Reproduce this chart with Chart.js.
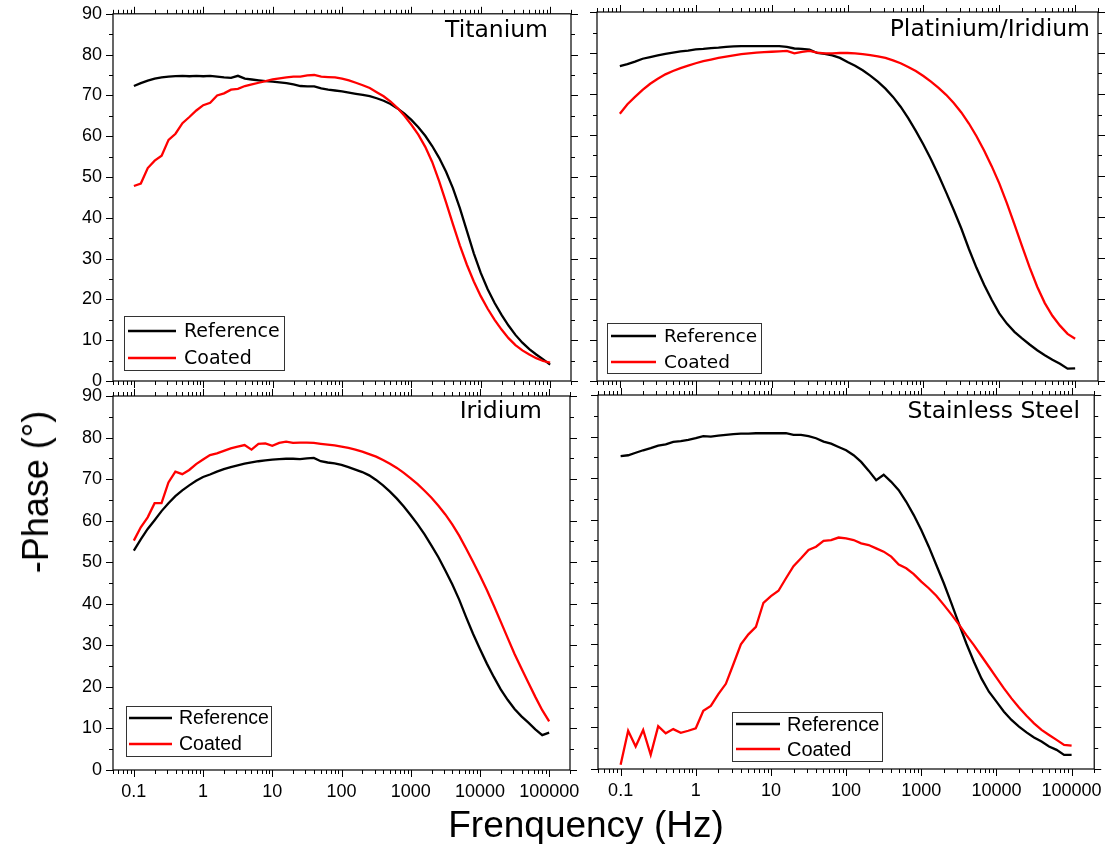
<!DOCTYPE html>
<html>
<head>
<meta charset="utf-8">
<script src="https://cdn.jsdelivr.net/npm/chart.js@4.4.0/dist/chart.umd.min.js"></script>
<style>
html,body{margin:0;padding:0;background:#fff;width:1105px;height:844px;overflow:hidden;position:relative;}
canvas{position:absolute;}
.axt{position:absolute;font-family:"Liberation Sans",Arial,sans-serif;font-size:36px;line-height:1;color:#000;white-space:nowrap;transform:translate(-50%,-50%);}
</style>
</head>
<body>
<canvas id="cTL" width="590" height="395" style="left:0px;top:0px"></canvas>
<canvas id="cTR" width="520" height="395" style="left:585px;top:0px"></canvas>
<canvas id="cBL" width="590" height="464" style="left:0px;top:380px"></canvas>
<canvas id="cBR" width="520" height="464" style="left:585px;top:380px"></canvas>
<div class="axt" style="left:586px;top:824px;font-size:37px;">Frenquency (Hz)</div>
<div class="axt" style="left:36px;top:492px;transform:translate(-50%,-50%) rotate(-90deg);">-Phase (°)</div>
<script>
// ---------- DATA ----------
const frequencies = [
  0.1, 0.1259, 0.1585, 0.1995, 0.2512, 0.3162, 0.3981, 0.5012, 0.631, 0.7943,
  1, 1.259, 1.585, 1.995, 2.512, 3.162, 3.981, 5.012, 6.31, 7.943,
  10, 12.59, 15.85, 19.95, 25.12, 31.62, 39.81, 50.12, 63.1, 79.43,
  100, 125.9, 158.5, 199.5, 251.2, 316.2, 398.1, 501.2, 631, 794.3,
  1000, 1259, 1585, 1995, 2512, 3162, 3981, 5012, 6310, 7943,
  10000, 12589, 15849, 19953, 25119, 31623, 39811, 50119, 63096, 79433,
  100000
];

const titaniumReference = [
  72.3, 73.0, 73.6, 74.1, 74.4, 74.6, 74.7, 74.8, 74.7, 74.8,
  74.7, 74.8, 74.6, 74.4, 74.3, 74.8, 74.1, 73.9, 73.7, 73.5,
  73.4, 73.2, 73.0, 72.7, 72.3, 72.2, 72.2, 71.7, 71.4, 71.2,
  71.0, 70.7, 70.4, 70.1, 69.8, 69.3, 68.7, 67.9, 66.8, 65.5,
  64.0, 62.2, 60.1, 57.6, 54.7, 51.3, 47.2, 42.3, 36.8, 31.3,
  26.5, 22.5, 19.1, 16.2, 13.6, 11.3, 9.4, 7.8, 6.5, 5.3,
  4.0
];
const titaniumCoated = [
  47.8, 48.4, 52.2, 54.0, 55.2, 59.1, 60.6, 63.2, 64.7, 66.3,
  67.6, 68.2, 70.0, 70.5, 71.4, 71.6, 72.3, 72.7, 73.1, 73.5,
  73.9, 74.2, 74.4, 74.6, 74.6, 74.9, 75.0, 74.6, 74.5, 74.4,
  74.1, 73.7, 73.1, 72.5, 71.8, 70.8, 69.8, 68.5, 66.9, 65.0,
  62.8, 60.4, 57.4, 53.7, 49.0, 43.8, 38.4, 33.2, 28.5, 24.4,
  20.8, 17.7, 15.0, 12.6, 10.5, 8.8, 7.5, 6.5, 5.6, 4.9,
  4.5
];

const platiniumReference = [
  76.8, 77.3, 77.9, 78.6, 79.0, 79.4, 79.8, 80.1, 80.4, 80.6,
  80.9, 81.0, 81.2, 81.3, 81.5, 81.6, 81.7, 81.7, 81.7, 81.7,
  81.7, 81.7, 81.5, 81.1, 81.0, 80.8, 80.0, 79.8, 79.4, 78.8,
  77.8, 76.9, 75.8, 74.5, 73.0, 71.3, 69.3, 66.9, 64.1, 61.0,
  57.7, 54.1, 50.2, 46.0, 41.7, 37.2, 32.2, 27.6, 23.5, 19.8,
  16.5, 14.0, 12.0, 10.4, 8.9, 7.5, 6.3, 5.2, 4.2, 3.0,
  3.1
];
const platiniumCoated = [
  65.2, 67.5, 69.3, 71.0, 72.5, 73.7, 74.8, 75.6, 76.3, 76.9,
  77.5, 78.0, 78.4, 78.8, 79.1, 79.4, 79.7, 79.9, 80.1, 80.2,
  80.3, 80.4, 80.5, 79.9, 80.3, 80.5, 80.1, 79.9, 79.9, 80.0,
  80.0, 79.9, 79.7, 79.5, 79.2, 78.8, 78.2, 77.5, 76.6, 75.6,
  74.4, 73.0, 71.5, 69.8, 67.8, 65.5, 62.8, 59.7, 56.2, 52.4,
  48.2, 43.4, 38.2, 32.9, 27.7, 23.0, 19.0, 15.9, 13.5, 11.5,
  10.3
];

const iridiumReference = [
  52.8, 55.5, 58.0, 60.1, 62.3, 64.2, 65.9, 67.3, 68.5, 69.6,
  70.5, 71.1, 71.8, 72.4, 72.9, 73.3, 73.7, 74.0, 74.3, 74.5,
  74.7, 74.8, 74.9, 74.9, 74.8, 75.0, 75.1, 74.3, 74.0, 73.8,
  73.4, 72.9, 72.3, 71.7, 70.9, 69.8, 68.5, 67.0, 65.3, 63.4,
  61.3, 59.1, 56.7, 54.0, 51.2, 48.0, 44.7, 41.0, 36.8, 32.8,
  29.1, 25.6, 22.4, 19.4, 16.9, 14.7, 12.9, 11.4, 9.8, 8.4,
  9.0
];
const iridiumCoated = [
  55.2, 58.4, 60.8, 64.2, 64.2, 69.2, 71.8, 71.2, 72.2, 73.6,
  74.7, 75.8, 76.2, 76.8, 77.4, 77.8, 78.2, 77.1, 78.5, 78.6,
  78.0, 78.7, 79.0, 78.7, 78.8, 78.8, 78.7, 78.5, 78.3, 78.1,
  77.8, 77.5, 77.1, 76.6, 76.0, 75.4, 74.6, 73.7, 72.7, 71.5,
  70.2, 68.8, 67.2, 65.5, 63.6, 61.5, 59.1, 56.4, 53.3, 50.1,
  46.8, 43.3, 39.6, 35.7, 31.8, 27.9, 24.4, 21.0, 17.6, 14.4,
  11.7
];

const steelReference = [
  75.3, 75.5, 76.1, 76.7, 77.2, 77.8, 78.1, 78.7, 78.9, 79.2,
  79.6, 80.1, 80.0, 80.2, 80.4, 80.6, 80.7, 80.7, 80.8, 80.8,
  80.8, 80.8, 80.8, 80.4, 80.4, 80.1, 79.6, 78.8, 78.3, 77.5,
  76.7, 75.5, 73.9, 71.8, 69.5, 70.8, 69.1, 67.1, 64.3, 61.1,
  57.5, 53.5, 49.1, 44.7, 39.9, 35.0, 30.2, 25.8, 21.8, 18.6,
  16.2, 13.8, 11.8, 10.2, 8.8, 7.6, 6.6, 5.4, 4.6, 3.4,
  3.4
];
const steelCoated = [
  1.0, 9.2, 5.4, 9.4, 3.4, 10.3, 8.6, 9.6, 8.7, 9.2,
  9.8, 14.0, 15.2, 18.0, 20.5, 25.2, 30.0, 32.4, 34.2, 40.0,
  41.6, 42.9, 45.9, 48.8, 50.7, 52.7, 53.5, 54.9, 55.1, 55.7,
  55.5, 55.1, 54.3, 53.9, 53.1, 52.3, 51.1, 49.2, 48.3, 46.9,
  45.1, 43.5, 41.7, 39.5, 37.2, 34.8, 32.2, 29.8, 27.2, 24.6,
  22.0, 19.4, 17.0, 14.8, 12.8, 11.0, 9.4, 8.2, 7.0, 5.8,
  5.6
];

const xTickValues = [0.1, 1, 10, 100, 1000, 10000, 100000];
const xTickLabels = ['0.1', '1', '10', '100', '1000', '10000', '100000'];
const yTickValues = [0, 10, 20, 30, 40, 50, 60, 70, 80, 90];
const yTickLabels = ['0', '10', '20', '30', '40', '50', '60', '70', '80', '90'];
const seriesNames = ['Reference', 'Coated'];
const panelTitles = ['Titanium', 'Platinium/Iridium', 'Iridium', 'Stainless Steel'];

// ---------- DRAWING ----------
const X_MIN = 0.05, X_MAX = 200000;

const panelDecor = {
  id: 'panelDecor',
  afterDraw(chart, args, o) {
    const ctx = chart.ctx, a = chart.chartArea;
    const xs = chart.scales.x, ys = chart.scales.y;
    ctx.save();
    ctx.strokeStyle = '#000';
    ctx.lineWidth = 1.2;
    ctx.strokeRect(a.left, a.top, a.right - a.left, a.bottom - a.top);
    ctx.lineWidth = 1;
    const MAJ = 7, MIN = 4;
    const xt = [];
    xTickValues.forEach(v => xt.push([v, MAJ]));
    const decs = [0.01].concat(xTickValues);
    decs.forEach(d => { for (let k = 2; k <= 9; k++) { const v = d * k; if (v >= X_MIN && v <= X_MAX) xt.push([v, MIN]); } });
    ctx.beginPath();
    xt.forEach(([v, len]) => {
      const px = Math.round(xs.getPixelForValue(v)) + 0.5;
      ctx.moveTo(px, a.bottom); ctx.lineTo(px, a.bottom + len);
      ctx.moveTo(px, a.top); ctx.lineTo(px, a.top - len);
    });
    for (let v = 0; v <= 90; v += 5) {
      const len = (v % 10 === 0) ? MAJ : MIN;
      const py = Math.round(ys.getPixelForValue(v)) + 0.5;
      ctx.moveTo(a.left, py); ctx.lineTo(a.left - len, py);
      ctx.moveTo(a.right, py); ctx.lineTo(a.right + len, py);
    }
    ctx.stroke();

    const ox = o.offX, oy = o.offY;
    ctx.fillStyle = '#000';
    ctx.font = o.titleFont;
    ctx.textAlign = 'right';
    ctx.textBaseline = 'middle';
    ctx.fillText(o.title, o.titleRight - ox, o.titleY - oy);

    const L = o.legend;
    ctx.strokeStyle = '#333';
    ctx.lineWidth = 1;
    ctx.strokeRect(L.x0 - ox + 0.5, L.y0 - oy + 0.5, L.x1 - L.x0, L.y1 - L.y0);
    ctx.textAlign = 'left';
    ctx.font = L.font;
    chart.data.datasets.forEach((ds, k) => {
      const ry = L.rows[k] - oy;
      ctx.strokeStyle = ds.borderColor;
      ctx.lineWidth = 2.6;
      ctx.beginPath();
      ctx.moveTo(L.lx0 - ox, ry); ctx.lineTo(L.lx1 - ox, ry);
      ctx.stroke();
      ctx.fillStyle = '#000';
      ctx.fillText(ds.label, L.tx - ox, ry + 1);
    });
    ctx.restore();
  }
};

function makePanel(id, ref, coat, p) {
  const tickFont = { family: '"Liberation Sans", Arial, sans-serif', size: 18 };
  new Chart(document.getElementById(id), {
    type: 'line',
    data: {
      datasets: [
        { label: seriesNames[0], data: frequencies.map((f, i) => ({ x: f, y: ref[i] })),
          borderColor: '#000000', borderWidth: 2.3, pointRadius: 0, tension: 0, order: 2 },
        { label: seriesNames[1], data: frequencies.map((f, i) => ({ x: f, y: coat[i] })),
          borderColor: '#ff0000', borderWidth: 2.3, pointRadius: 0, tension: 0, order: 1 }
      ]
    },
    options: {
      responsive: false, animation: false, devicePixelRatio: 1,
      layout: { padding: p.padding },
      plugins: {
        legend: { display: false }, tooltip: { enabled: false },
        panelDecor: p.decor
      },
      scales: {
        x: {
          type: 'logarithmic', min: X_MIN, max: X_MAX, bounds: 'data',
          display: p.showX,
          afterBuildTicks: s => { s.ticks = xTickValues.map(v => ({ value: v })); },
          afterFit: s => { s.height = p.showX ? 40 : 0; },
          ticks: { autoSkip: false, maxRotation: 0, minRotation: 0, padding: 3, color: '#000', font: tickFont,
                   callback: (v, i) => xTickLabels[i] },
          grid: { drawOnChartArea: false, drawTicks: true, tickLength: 8, color: 'rgba(0,0,0,0)', tickColor: 'rgba(0,0,0,0)' },
          border: { display: false }
        },
        y: {
          type: 'linear', min: 0, max: 90,
          display: p.showY,
          afterBuildTicks: s => { s.ticks = yTickValues.map(v => ({ value: v })); },
          afterFit: s => { s.width = p.showY ? 113 : 0; },
          ticks: { autoSkip: false, padding: 3, color: '#000', font: tickFont,
                   callback: (v, i) => yTickLabels[i] },
          grid: { drawOnChartArea: false, drawTicks: true, tickLength: 8, color: 'rgba(0,0,0,0)', tickColor: 'rgba(0,0,0,0)' },
          border: { display: false }
        }
      }
    },
    plugins: [panelDecor]
  });
}

const TOPF = '19px "DejaVu Sans", Verdana, sans-serif';
const BOTF = '20px "Liberation Sans", Arial, sans-serif';
const TITF = '23.5px "DejaVu Sans", Verdana, sans-serif';

makePanel('cTL', titaniumReference, titaniumCoated, {
  padding: { left: 0, top: 12, right: 19, bottom: 14 }, showX: false, showY: true,
  decor: { offX: 0, offY: 0, title: panelTitles[0], titleFont: TITF, titleRight: 548, titleY: 31,
    legend: { x0: 124, y0: 316, x1: 284, y1: 370, lx0: 128, lx1: 176, tx: 184, rows: [331, 358], font: TOPF } }
});
makePanel('cTR', platiniumReference, platiniumCoated, {
  padding: { left: 12, top: 12, right: 7, bottom: 14 }, showX: false, showY: false,
  decor: { offX: 585, offY: 0, title: panelTitles[1], titleFont: TITF, titleRight: 1090, titleY: 30,
    legend: { x0: 607, y0: 323, x1: 761, y1: 373, lx0: 611, lx1: 656, tx: 664, rows: [336, 362], font: '18.5px "DejaVu Sans", Verdana, sans-serif' } }
});
makePanel('cBL', iridiumReference, iridiumCoated, {
  padding: { left: 0, top: 16, right: 20, bottom: 34 }, showX: true, showY: true,
  decor: { offX: 0, offY: 380, title: panelTitles[2], titleFont: TITF, titleRight: 542, titleY: 412,
    legend: { x0: 126, y0: 706, x1: 271, y1: 756, lx0: 129, lx1: 172, tx: 179, rows: [718, 744], font: '19.5px "Liberation Sans", Arial, sans-serif' } }
});
makePanel('cBR', steelReference, steelCoated, {
  padding: { left: 13, top: 15, right: 8, bottom: 35 }, showX: true, showY: false,
  decor: { offX: 585, offY: 380, title: panelTitles[3], titleFont: TITF, titleRight: 1080, titleY: 412,
    legend: { x0: 732, y0: 712, x1: 882, y1: 761, lx0: 736, lx1: 780, tx: 787, rows: [724, 749], font: BOTF } }
});
</script>
</body>
</html>
